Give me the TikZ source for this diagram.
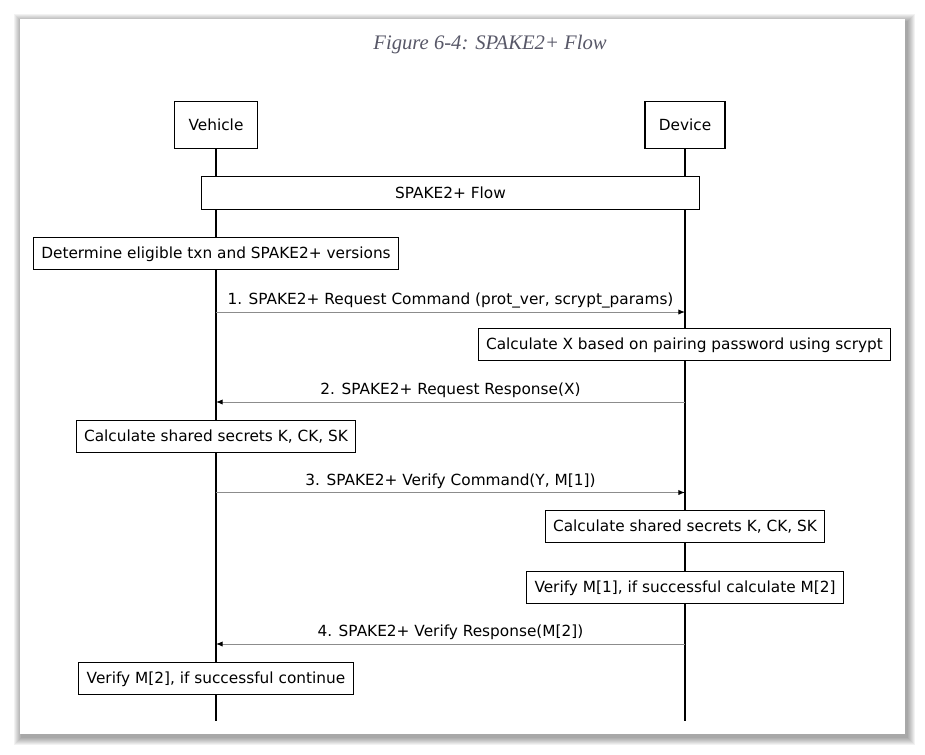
\documentclass[tikz,border=0pt]{standalone}
\usepackage{fontspec}
\setmainfont{DejaVu Sans}
\newfontfamily\titlefont{Liberation Serif}
\usetikzlibrary{arrows.meta}
\definecolor{titlegray}{RGB}{88,88,104}

\tikzset{
box/.style={draw, fill=white, line width=0.8pt, inner xsep=6pt, minimum height=24.5pt, text depth=1pt, font=\fontsize{11.5}{13}\selectfont},
head/.style={box, minimum width=62pt, minimum height=35pt},
msg/.style={draw=black!45, line width=0.75pt, -{Latex[length=5pt,width=4pt,color=black]}},
lbl/.style={above, inner sep=2.5pt, font=\fontsize{11.5}{13}\selectfont}
}

\begin{document}
\begin{tikzpicture}[x=0.75pt,y=-0.75pt]
\useasboundingbox (0,0) rectangle (925,754);
% frame with soft shadow
\foreach \i in {1,...,8} \fill[black, opacity=0.05] (20-\i+2,19-\i+3) rectangle (905+\i+2,734+\i+3);
\fill[white] (20,19) rectangle (905,734);
\node[font=\titlefont\itshape\fontsize{15.5}{18}\selectfont, text=titlegray] (title) at (490,45) {Figure 6-4: SPAKE2+ Flow};

% lifelines
\node[head] (veh) at (216,125) {Vehicle};
\node[head, minimum width=60pt] (dev) at (685,125) {Device};
\coordinate (vend) at (216,721);
\coordinate (dend) at (685,721);
\draw[line width=0.8pt] (veh) -- (vend);
\draw[line width=0.8pt] (dev) -- (dend);

\node[box, minimum width=373pt] (flow) at (450.5,193) {SPAKE2+ Flow};
\node[box] (elig) at (216,253.5) {Determine eligible txn and SPAKE2+ versions};

\coordinate (v1) at (216,312);
\coordinate (d1) at (685,312);
\draw[msg] (v1) -- node[lbl]{1. SPAKE2+ Request Command (prot\_ver, scrypt\_params)} (d1);
\node[box] (calcx) at (684.5,344.5) {Calculate X based on pairing password using scrypt};

\coordinate (d2) at (685,402);
\coordinate (v2) at (216,402);
\draw[msg] (d2) -- node[lbl]{2. SPAKE2+ Request Response(X)} (v2);
\node[box] (vsec) at (216,436.5) {Calculate shared secrets K, CK, SK};

\coordinate (v3) at (216,492.5);
\coordinate (d3) at (685,492.5);
\draw[msg] (v3) -- node[lbl]{3. SPAKE2+ Verify Command(Y, M[1])} (d3);
\node[box] (dsec) at (685,526.5) {Calculate shared secrets K, CK, SK};
\node[box] (vm1) at (685,587.5) {Verify M[1], if successful calculate M[2]};

\coordinate (d4) at (685,644);
\coordinate (v4) at (216,644);
\draw[msg] (d4) -- node[lbl]{4. SPAKE2+ Verify Response(M[2])} (v4);
\node[box] (vm2) at (216,678.5) {Verify M[2], if successful continue};
\end{tikzpicture}
\end{document}
